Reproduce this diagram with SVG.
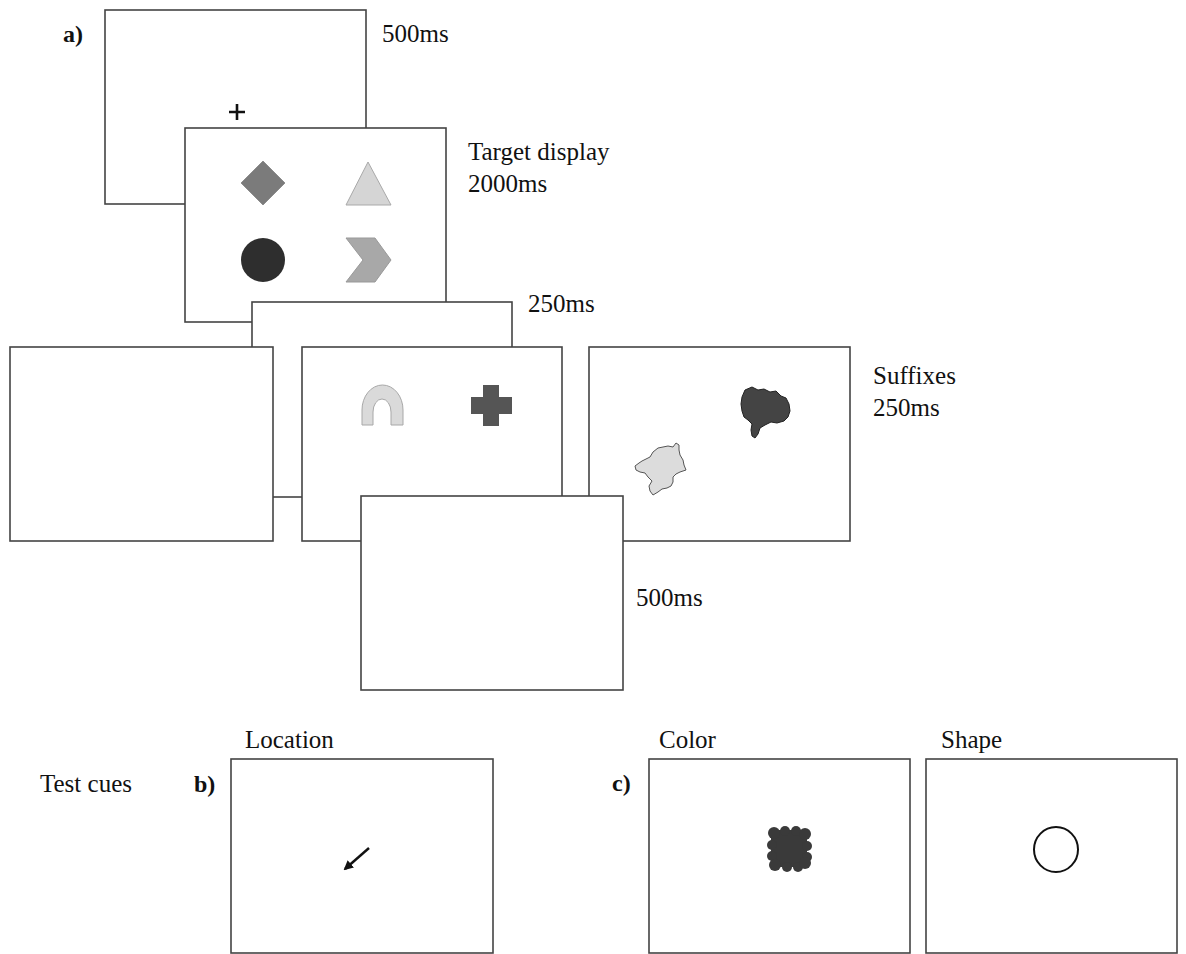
<svg xmlns="http://www.w3.org/2000/svg" width="1186" height="954" viewBox="0 0 1186 954">
<defs>
<style>
.fr{fill:#fff;stroke:#444;stroke-width:1.6}
.t{font-family:"Liberation Serif","Times New Roman",serif;font-size:25px;fill:#111}
.b{font-family:"Liberation Serif","Times New Roman",serif;font-size:24px;font-weight:bold;fill:#111}
</style>
<marker id="ah" viewBox="0 0 10 10" refX="8" refY="5" markerWidth="4" markerHeight="4" orient="auto">
<path d="M0,0 L10,5 L0,10 Z" fill="#111"/>
</marker>
</defs>
<rect width="1186" height="954" fill="#fff"/>
<text class="b" x="63" y="42">a)</text>
<g id="frame-fixation">
<rect class="fr" x="105" y="10" width="261" height="194"/>
<path d="M229,112 H245 M237,104 V120" stroke="#111" stroke-width="2.6" fill="none"/>
<text class="t" x="382" y="42">500ms</text>
</g>
<g id="frame-target">
<rect class="fr" x="185" y="128" width="261" height="194"/>
<polygon points="263,161 285,183 263,205 241,183" fill="#7b7b7b" stroke="#8e8e8e" stroke-width="1"/>
<polygon points="368,162 391,205 346,205" fill="#d5d5d5" stroke="#a9a9a9" stroke-width="1"/>
<circle cx="263" cy="260" r="22" fill="#2e2e2e"/>
<polygon points="346,238 375,238 391,260 375,282 346,282 363,260" fill="#a8a8a8" stroke="#999" stroke-width="1"/>
<text class="t" x="468" y="160">Target display</text>
<text class="t" x="468" y="192">2000ms</text>
</g>
<g id="frame-isi1">
<rect class="fr" x="252" y="302" width="260" height="195"/>
<text class="t" x="528" y="312">250ms</text>
</g>
<g id="frame-left">
<rect class="fr" x="10" y="347" width="263" height="194"/>
</g>
<g id="frame-prefix">
<rect class="fr" x="302" y="347" width="260" height="194"/>
<path d="M362,425 L362,410 A20.5,25 0 0 1 403,410 L403,425 L391,425 L391,412 A9,13 0 0 0 373,412 L373,425 Z" fill="#dadada" stroke="#a8a8a8" stroke-width="1"/>
<path d="M483,385 H499 V397 H512 V414 H499 V426 H483 V414 H471 V397 H483 Z" fill="#555"/>
</g>
<g id="frame-suffix">
<rect class="fr" x="589" y="347" width="261" height="194"/>
<path d="M745,390 L752,387 L758,390 L764,389 L770,392 L776,391 L781,396 L786,398 L789,404 L790,411 L788,417 L784,421 L777,423 L771,422 L765,425 L760,428 L758,434 L755,438 L752,436 L751,430 L752,424 L748,420 L744,417 L742,411 L741,404 L742,397 Z" fill="#444" stroke="#222" stroke-width="1"/>
<path d="M653,452 L658,448 L663,447 L668,446 L673,447 L676,443 L679,445 L679,450 L680,455 L683,460 L684,465 L686,470 L680,472 L676,474 L673,477 L673,482 L671,486 L667,488 L662,489 L658,492 L653,495 L650,491 L649,486 L652,481 L648,477 L645,473 L640,472 L636,470 L635,466 L639,463 L642,461 L646,459 L650,457 Z" fill="#dcdcdc" stroke="#555" stroke-width="1"/>
<text class="t" x="873" y="384">Suffixes</text>
<text class="t" x="873" y="416">250ms</text>
</g>
<g id="frame-isi2">
<rect class="fr" x="361" y="496" width="262" height="194"/>
<text class="t" x="636" y="606">500ms</text>
</g>
<text class="t" x="40" y="792">Test cues</text>
<text class="b" x="194" y="792">b)</text>
<g id="cue-location">
<text class="t" x="245" y="748">Location</text>
<rect class="fr" x="231" y="759" width="262" height="194"/>
<line x1="369" y1="848" x2="345" y2="869" stroke="#111" stroke-width="2.4" marker-end="url(#ah)"/>
</g>
<text class="b" x="612" y="791">c)</text>
<g id="cue-color">
<text class="t" x="659" y="748">Color</text>
<rect class="fr" x="649" y="759" width="261" height="194"/>
<g fill="#3a3a3a">
<rect x="771" y="830" width="36" height="37"/>
<circle cx="774" cy="833" r="6"/><circle cx="785" cy="831" r="5"/><circle cx="796" cy="831" r="5"/><circle cx="805" cy="834" r="6"/>
<circle cx="772" cy="845" r="5"/><circle cx="772" cy="856" r="5"/><circle cx="807" cy="846" r="5"/><circle cx="807" cy="857" r="5"/>
<circle cx="775" cy="865" r="6"/><circle cx="787" cy="867" r="5"/><circle cx="798" cy="867" r="5"/><circle cx="805" cy="863" r="6"/>
</g>
</g>
<g id="cue-shape">
<text class="t" x="941" y="748">Shape</text>
<rect class="fr" x="926" y="759" width="251" height="194"/>
<ellipse cx="1056" cy="849.5" rx="22" ry="22.5" fill="none" stroke="#111" stroke-width="2"/>
</g>
<g id="connectors"/>
</svg>
